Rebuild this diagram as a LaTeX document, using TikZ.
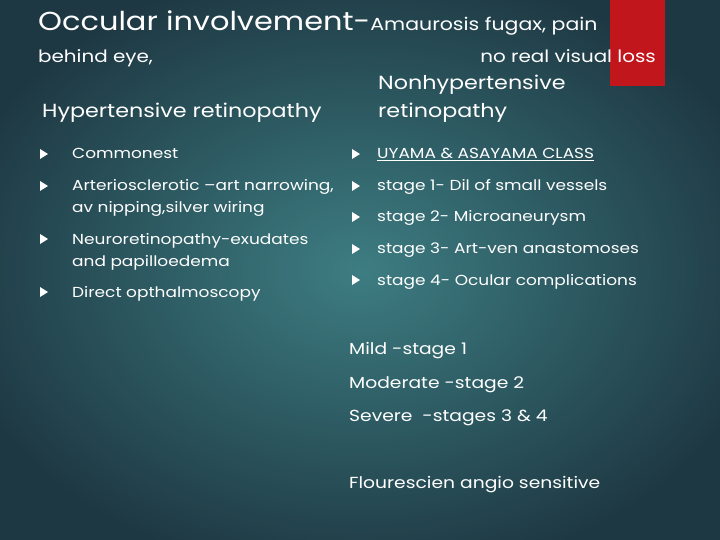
\documentclass[tikz,border=0pt]{standalone}
\usepackage{fontspec}
\setmainfont{Poppins}[FakeStretch=1.17]
\usetikzlibrary{shadings}
\definecolor{bgin}{HTML}{3D7D82}
\definecolor{bgout}{HTML}{1E3843}
\definecolor{slred}{HTML}{C2161D}
\tikzset{
 txt/.style={anchor=base west,inner sep=0pt,text=white,font=\fontsize{14.5}{16}\selectfont},
 bigt/.style={anchor=base west,inner sep=0pt,text=white,font=\fontsize{19}{21}\selectfont},
 bul/.style={fill=white}
}
\newcommand{\bt}[2]{\fill[bul] (#1,#2-10) -- (#1+8,#2-5) -- (#1,#2) -- cycle;}
\begin{document}
\begin{tikzpicture}[x=1pt,y=-1pt]
\useasboundingbox (0,0) rectangle (720,540);
\shade[inner color=bgin,outer color=bgout] (-60,-40) rectangle (780,580);
\fill[slred] (610,0) rectangle (665,86);
\node[anchor=base west,inner sep=0pt,text=white] (t1) at (38,31) {\fontsize{26}{28}\selectfont Occular involvement-\fontsize{17.5}{20}\selectfont Amaurosis fugax, pain};
\node[anchor=base west,inner sep=0pt,text=white,font=\fontsize{17}{20}\selectfont] (t2) at (38,63) {behind eye,};
\node[anchor=base east,inner sep=0pt,text=white,font=\fontsize{17}{20}\selectfont] (t3) at (656,63) {no real visual loss};
\node[bigt] (h1) at (42,118) {Hypertensive retinopathy};
\node[bigt] (h2) at (378,90) {Nonhypertensive};
\node[bigt] (h3) at (378,118) {retinopathy};
\bt{40}{159}\node[txt] (l1) at (72,159) {Commonest};
\bt{40}{191}\node[txt] (l2) at (72,191) {Arteriosclerotic --art narrowing,};
\node[txt] (l2b) at (72,213) {av nipping,silver wiring};
\bt{40}{244}\node[txt] (l3) at (72,244) {Neuroretinopathy-exudates};
\node[txt] (l3b) at (72,266) {and papilloedema};
\bt{40}{297}\node[txt] (l4) at (72,297) {Direct opthalmoscopy};
\bt{352}{159}\node[txt] (r1) at (377,159) {\underline{UYAMA \& ASAYAMA CLASS}};
\bt{352}{191}\node[txt] (r2) at (377,191) {stage 1- Dil of small vessels};
\bt{352}{222}\node[txt] (r3) at (377,222) {stage 2- Microaneurysm};
\bt{352}{254}\node[txt] (r4) at (377,254) {stage 3- Art-ven anastomoses};
\bt{352}{285}\node[txt] (r5) at (377,285) {stage 4- Ocular complications};
\node[txt,font=\fontsize{16}{18}\selectfont] (m1) at (349,354) {Mild -stage 1};
\node[txt,font=\fontsize{16}{18}\selectfont] (m2) at (349,388) {Moderate -stage 2};
\node[txt,font=\fontsize{16}{18}\selectfont] (m3) at (349,421) {Severe\ \ -stages 3 \& 4};
\node[txt,font=\fontsize{16}{18}\selectfont] (m4) at (349,488) {Flourescien angio sensitive};
\end{tikzpicture}
\end{document}
